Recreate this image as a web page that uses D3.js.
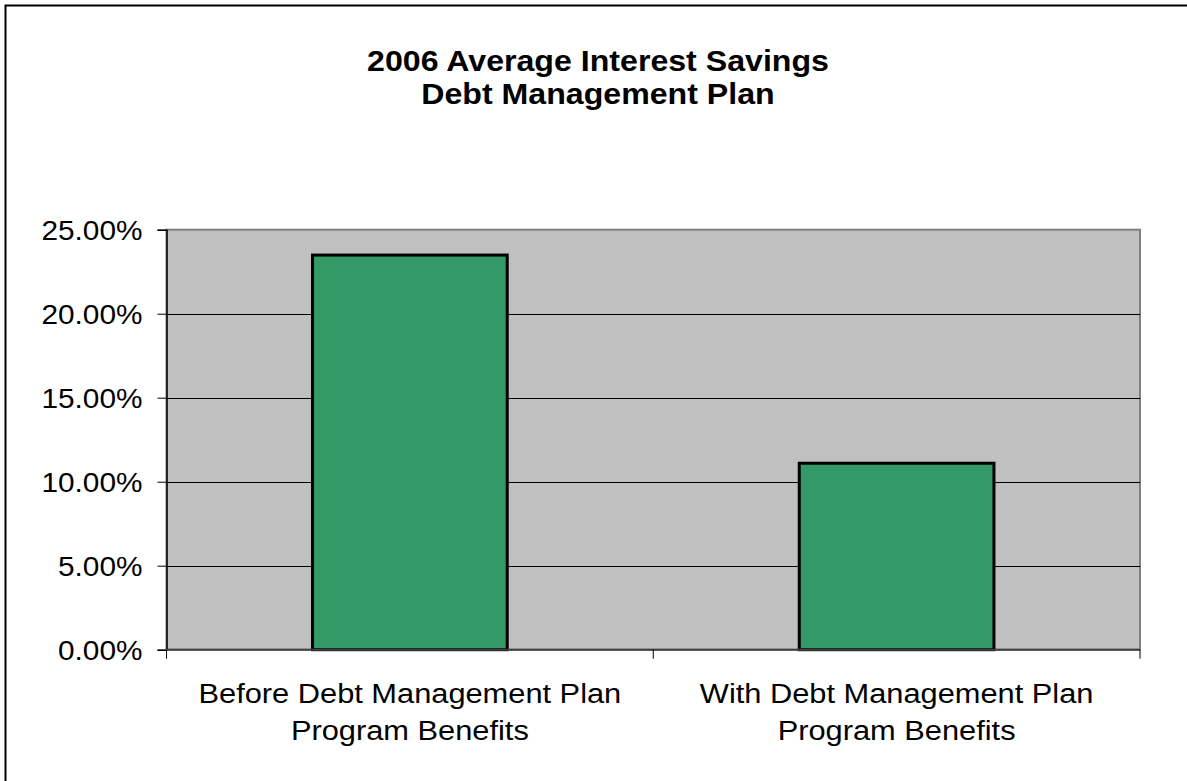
<!DOCTYPE html>
<html><head><meta charset="utf-8">
<script src="https://cdn.jsdelivr.net/npm/d3@7"></script>
<style>body{margin:0;background:#fff;} svg{display:block;font-family:"Liberation Sans",Arial,sans-serif;}</style>
</head><body>
<svg id="c" width="1187" height="781"></svg>
<script>
const titleLines = ["2006 Average Interest Savings", "Debt Management Plan"];
const categories = ["Before Debt Management Plan\nProgram Benefits", "With Debt Management Plan\nProgram Benefits"];
const values = [0.2349, 0.1110];
const yTicks = [0, 0.05, 0.10, 0.15, 0.20, 0.25];

const svg = d3.select("#c");
const W = 1187, H = 781;
const m = {left: 166.5, right: 1140, top: 229.7, bottom: 649.7};

// outer chart border (right/bottom edges are off-canvas)
svg.append("rect").attr("x", 5.5).attr("y", 5.5).attr("width", W + 20).attr("height", H + 20)
  .attr("fill", "#fff").attr("stroke", "#000").attr("stroke-width", 2);

const x = d3.scaleBand().domain(categories).range([m.left, m.right]).padding(0);
const y = d3.scaleLinear().domain([0, 0.25]).range([m.bottom, m.top]);

// plot background
svg.append("rect").attr("x", m.left).attr("y", m.top)
  .attr("width", m.right - m.left).attr("height", m.bottom - m.top)
  .attr("fill", "#C0C0C0").attr("stroke", "#808080").attr("stroke-width", 2);

// gridlines
svg.append("g").selectAll("line").data(yTicks.filter(d => d > 0 && d < 0.25)).join("line")
  .attr("x1", m.left).attr("x2", m.right)
  .attr("y1", d => Math.round(y(d)) + 0.5).attr("y2", d => Math.round(y(d)) + 0.5)
  .attr("stroke", "#000").attr("stroke-width", 1);

// bars
const bw = x.bandwidth() * 0.4;
svg.append("g").selectAll("rect").data(values).join("rect")
  .attr("x", (d, i) => x(categories[i]) + (x.bandwidth() - bw) / 2)
  .attr("y", d => y(d))
  .attr("width", bw)
  .attr("height", d => y(0) - y(d))
  .attr("fill", "#339966").attr("stroke", "#000").attr("stroke-width", 3);

// y axis
const yAxis = d3.axisLeft(y).tickValues(yTicks).tickSize(9).tickPadding(15)
  .tickFormat(d => (d * 100).toFixed(2) + "%");
const gy = svg.append("g").attr("transform", `translate(${m.left},0)`).call(yAxis);
gy.select(".domain").attr("stroke", "#000").attr("stroke-width", 1.5);
gy.selectAll(".tick line").attr("stroke", "#000");
gy.selectAll(".tick text")
  .attr("font-size", 28).attr("fill", "#000").attr("dy", "0.36em")
  .attr("transform", "translate(-24,0) scale(1.065,1)").attr("x", 0);

// x axis: ticks at category boundaries
const gx = svg.append("g");
gx.append("line").attr("x1", m.left).attr("x2", m.right).attr("y1", m.bottom).attr("y2", m.bottom)
  .attr("stroke", "#404040").attr("stroke-width", 2);
const bounds = categories.map(c => x(c)).concat([x(categories[categories.length - 1]) + x.bandwidth()]);
gx.selectAll("line.t").data(bounds).join("line").attr("class", "t")
  .attr("x1", d => d).attr("x2", d => d).attr("y1", m.bottom).attr("y2", m.bottom + 9)
  .attr("stroke", "#000").attr("stroke-width", 1);

// category labels
categories.forEach((c, i) => {
  const cx = x(c) + x.bandwidth() / 2;
  const t = svg.append("text").attr("text-anchor", "middle").attr("font-size", 28).attr("fill", "#000")
    .attr("transform", `translate(${cx},0) scale(1.1,1)`);
  c.split("\n").forEach((ln, j) => {
    t.append("tspan").attr("x", 0).attr("y", 703 + j * 37).text(ln);
  });
});

// title
const tt = svg.append("text").attr("text-anchor", "middle").attr("font-size", 29)
  .attr("font-weight", "bold").attr("fill", "#000")
  .attr("transform", "translate(598,0) scale(1.108,1)");
titleLines.forEach((ln, j) => {
  tt.append("tspan").attr("x", 0).attr("y", 71 + j * 33).text(ln);
});
</script>
</body></html>
